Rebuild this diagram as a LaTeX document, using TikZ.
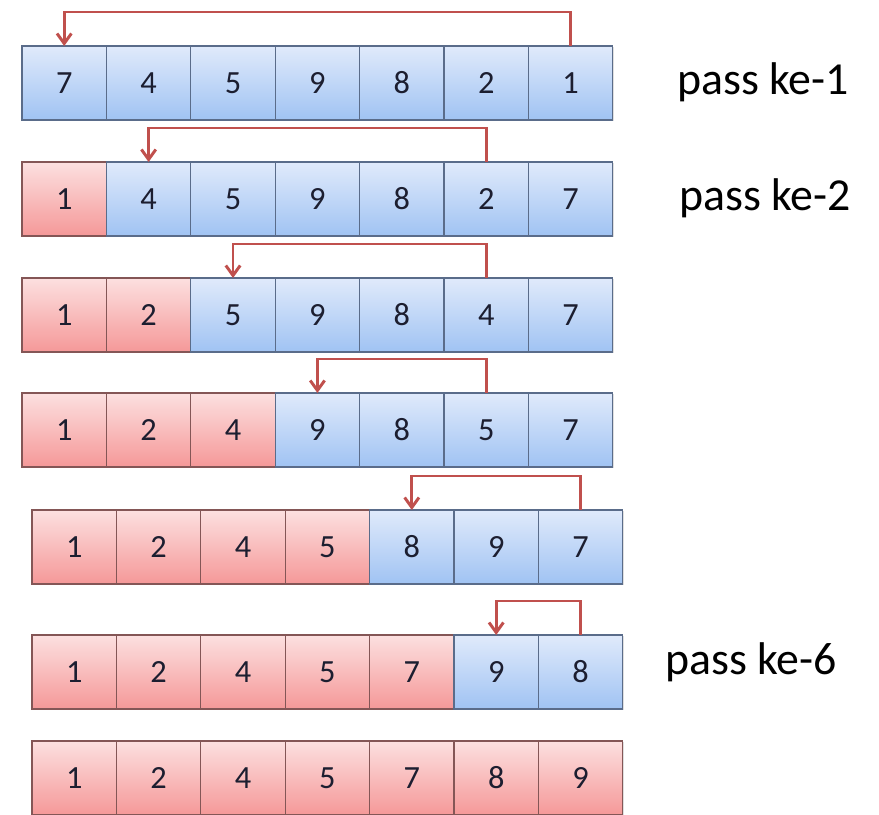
\documentclass[tikz,border=0pt]{standalone}
\usepackage{fontspec}
\setmainfont{Carlito}
\usepackage{xcolor}
\usepackage{tikz}
\usetikzlibrary{calc, arrows.meta, shadows}

\definecolor{bluetop}{RGB}{224,234,251}
\definecolor{bluebot}{RGB}{160,195,243}
\definecolor{blueline}{RGB}{90,108,138}
\definecolor{redtop}{RGB}{252,224,224}
\definecolor{redbot}{RGB}{245,152,152}
\definecolor{redline}{RGB}{132,86,86}
\definecolor{swapred}{RGB}{192,80,77}
\definecolor{digit}{RGB}{28,30,48}

\begin{document}
\begin{tikzpicture}[x=0.025cm, y=-0.025cm,
  cell/.style={draw, line width=0.8pt, minimum width=2.11cm, minimum height=1.85cm,
    inner sep=0pt, outer sep=0pt, anchor=north west, text=digit,
    font=\fontsize{23}{26}\selectfont,
    drop shadow={shadow xshift=0.8pt, shadow yshift=-1pt, opacity=0.25}},
  cellblue/.style={cell, draw=blueline, top color=bluetop, bottom color=bluebot},
  cellred/.style={cell, draw=redline, top color=redtop, bottom color=redbot},
  swaparrow/.style={swapred, line width=2.1pt, -{Straight Barb[length=0.25cm, width=0.36cm]}},
  passlabel/.style={anchor=base west, inner sep=0pt, font=\fontsize{32.6}{36}\selectfont}]
\useasboundingbox (0,0) rectangle (879,814);

% Rows of the array after each pass (first \done cells are already sorted)
\foreach \row/\xl/\yt/\done/\vals in {1/22/46/0/{7,4,5,9,8,2,1},
    2/22/162/1/{1,4,5,9,8,2,7}, 3/22/278/2/{1,2,5,9,8,4,7},
    4/22/393/3/{1,2,4,9,8,5,7}, 5/32/510/4/{1,2,4,5,8,9,7},
    6/32/635/5/{1,2,4,5,7,9,8}, 7/32/741/7/{1,2,4,5,7,8,9}} {
  \foreach \v [count=\col] in \vals {
    \ifnum\col>\done \def\kind{cellblue}\else \def\kind{cellred}\fi
    \node[\kind] (r\row c\col) at ({\xl+(\col-1)*84.4},\yt) {\v};
  }
}

% Swap arrows (minimum moved to the front)
\foreach \row/\a/\b in {1/7/1, 2/6/2, 3/6/3, 4/6/4, 5/7/5, 6/7/6}
  \draw[swaparrow] (r\row c\a.north) -- ++(0,-34) -| (r\row c\b.north);

% Pass labels
\node[passlabel] (pass1) at (677,95) {pass ke-1};
\node[passlabel] (pass2) at (679,210) {pass ke-2};
\node[passlabel] (pass6) at (665,674) {pass ke-6};
\end{tikzpicture}
\end{document}
